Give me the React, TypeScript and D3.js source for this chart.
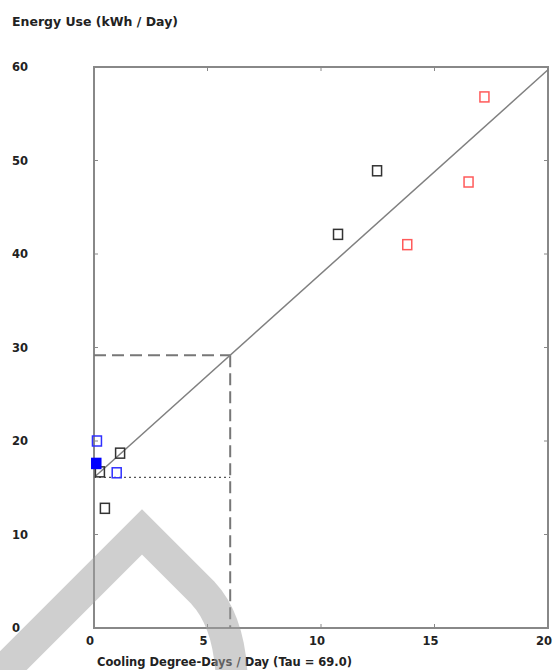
import React from "react";
import * as d3 from "d3";

const xTicks = [0, 5, 10, 15, 20];
const yTicks = [0, 10, 20, 30, 40, 50, 60];

const blackX = [0.26, 1.15, 0.48, 10.75, 12.47];
const blackY = [16.7, 18.7, 12.8, 42.1, 48.9];
const redX = [13.8, 16.5, 17.2];
const redY = [41.0, 47.7, 56.8];
const blueOpenX = [0.13, 1.0];
const blueOpenY = [20.0, 16.6];
const blueFilledX = [0.1];
const blueFilledY = [17.6];

const fitIntercept = 16.1;
const fitSlope = 2.18;
const balanceX = 6.0;

const W = 555, H = 670;
const L = 94, R = 548, T = 67, B = 628;

export default function App() {
  const x = d3.scaleLinear().domain([0, 20]).range([L, R]);
  const y = d3.scaleLinear().domain([0, 60]).range([B, T]);
  const fit = (v: number) => fitIntercept + fitSlope * v;
  const line = d3.line<number>().x((d) => x(d)).y((d) => y(fit(d)));
  const font = "'DejaVu Sans', Verdana, sans-serif";
  const sqW = 9, sqH = 10;
  const sq = (xs: number[], ys: number[], stroke: string, fill: string, key: string) =>
    xs.map((v, i) => (
      <rect key={key + i} x={x(v) - sqW / 2} y={y(ys[i]) - sqH / 2} width={sqW} height={sqH}
        fill={fill} stroke={stroke} strokeWidth={1.5} />
    ));
  const tickColor = "#888";
  return (
    <svg width={W} height={H} style={{ position: "absolute", left: 0, top: 0, background: "#fff" }}>
      <rect x={0} y={0} width={W} height={H} fill="#fff" />
      <text x={12} y={26} fontFamily={font} fontWeight="bold" fontSize={11.5} fill="#222"
        textLength={166} lengthAdjust="spacingAndGlyphs">Energy Use (kWh / Day)</text>
      {xTicks.map((t) => (
        <g key={"xt" + t}>
          <line x1={x(t)} x2={x(t)} y1={B} y2={B - 4} stroke={tickColor} strokeWidth={1} />
          <line x1={x(t)} x2={x(t)} y1={T} y2={T + 4} stroke={tickColor} strokeWidth={1} />
          <text x={x(t) - 4} y={645} textAnchor="middle" fontFamily={font} fontWeight="bold" fontSize={11.5} fill="#222">{t}</text>
        </g>
      ))}
      {yTicks.map((t) => (
        <g key={"yt" + t}>
          <line x1={L} x2={L + 4} y1={y(t)} y2={y(t)} stroke={tickColor} strokeWidth={1} />
          <line x1={R} x2={R - 4} y1={y(t)} y2={y(t)} stroke={tickColor} strokeWidth={1} />
          <text x={12} y={y(t) + 4} fontFamily={font} fontWeight="bold" fontSize={11.5} fill="#222">{t}</text>
        </g>
      ))}
      <rect x={L} y={T} width={R - L} height={B - T} fill="none" stroke="#888" strokeWidth={2} />
      <line x1={x(0)} x2={x(balanceX)} y1={y(fit(balanceX))} y2={y(fit(balanceX))} stroke="#777" strokeWidth={2} strokeDasharray="12,6" />
      <line x1={x(balanceX)} x2={x(balanceX)} y1={y(fit(balanceX))} y2={B} stroke="#777" strokeWidth={2} strokeDasharray="12,6" />
      <line x1={x(0)} x2={x(balanceX)} y1={y(fitIntercept)} y2={y(fitIntercept)} stroke="#555" strokeWidth={1.2} strokeDasharray="2,3" />
      <path d={line([0, 20]) || ""} fill="none" stroke="#808080" strokeWidth={1.5} />
      {sq(blackX, blackY, "#333", "none", "k")}
      {sq(redX, redY, "#ff5a5a", "none", "r")}
      {sq(blueOpenX, blueOpenY, "#3030ff", "none", "bo")}
      {sq(blueFilledX, blueFilledY, "#0000ff", "#0000ff", "bf")}
      <text x={97} y={666} fontFamily={font} fontWeight="bold" fontSize={11.5} fill="#222">Cooling Degree-Days / Day (Tau = 69.0)</text>
      <path d="M -30 704 L 142 532 L 203 593 Q 232 624 232 690" fill="none" stroke="#a0a0a0" strokeOpacity={0.5} strokeWidth={32} strokeLinejoin="miter" />
    </svg>
  );
}
